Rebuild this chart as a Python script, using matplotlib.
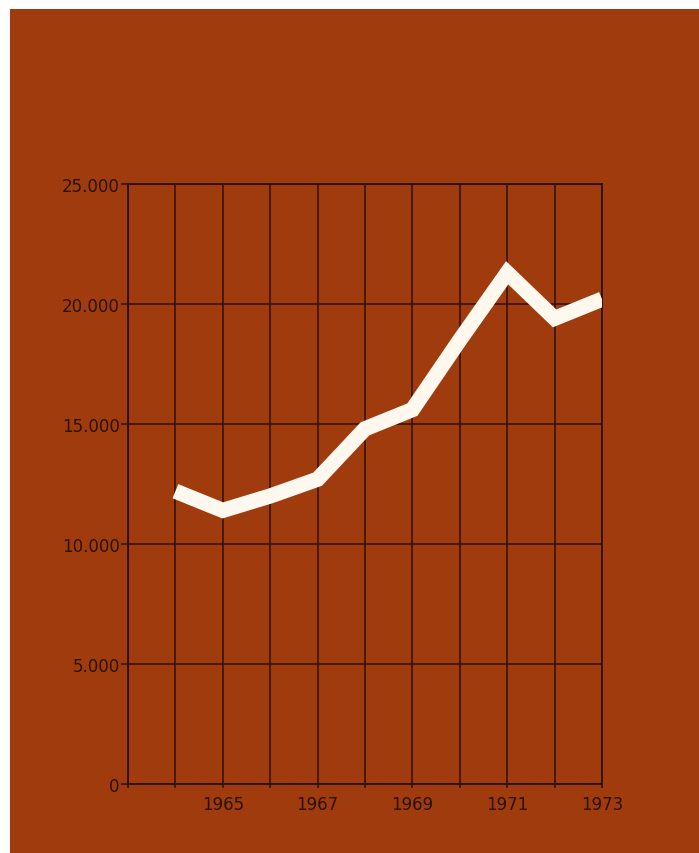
import matplotlib.pyplot as plt
from matplotlib.patches import Rectangle

years = [1964, 1965, 1966, 1967, 1968, 1969, 1970, 1971, 1972, 1973]
values = [12200, 11400, 12000, 12700, 14800, 15600, 18500, 21300, 19400, 20200]

year_labels = [1965, 1967, 1969, 1971, 1973]
y_ticks = [0, 5000, 10000, 15000, 20000, 25000]
y_labels = ["0", "5.000", "10.000", "15.000", "20.000", "25.000"]

bg = "#a03b0e"
ink = "#2a1206"

fig = plt.figure(figsize=(6.99, 8.54), dpi=100, facecolor="white")
fig.patches.append(Rectangle((10 / 699, 0), 1, 1 - 10 / 854, transform=fig.transFigure,
                             facecolor=bg, edgecolor="none", zorder=-1))

ax = fig.add_axes([128 / 699, 1 - 785 / 854, (602 - 128) / 699, (785 - 185) / 854])
ax.set_facecolor(bg)

ax.plot(years, values, color="#fff8ee", linewidth=11, solid_joinstyle="miter",
        solid_capstyle="butt", zorder=3)

ax.set_xlim(1963, 1973)
ax.set_ylim(0, 25000)
ax.set_xticks(range(1963, 1974))
ax.set_xticklabels([str(y) if y in year_labels else "" for y in range(1963, 1974)])
ax.set_yticks(y_ticks)
ax.set_yticklabels(y_labels)

ax.grid(True, color=ink, linewidth=1.1)
ax.set_axisbelow(True)
for s in ax.spines.values():
    s.set_color(ink)
    s.set_linewidth(1.3)

ax.tick_params(axis="y", length=5, width=1.1, color=ink, labelcolor=ink,
               labelsize=12, pad=1)
ax.tick_params(axis="x", length=3, width=1.1, color=ink, labelcolor=ink,
               labelsize=12, pad=5)

plt.savefig("out.png", dpi=100, facecolor=fig.get_facecolor())
